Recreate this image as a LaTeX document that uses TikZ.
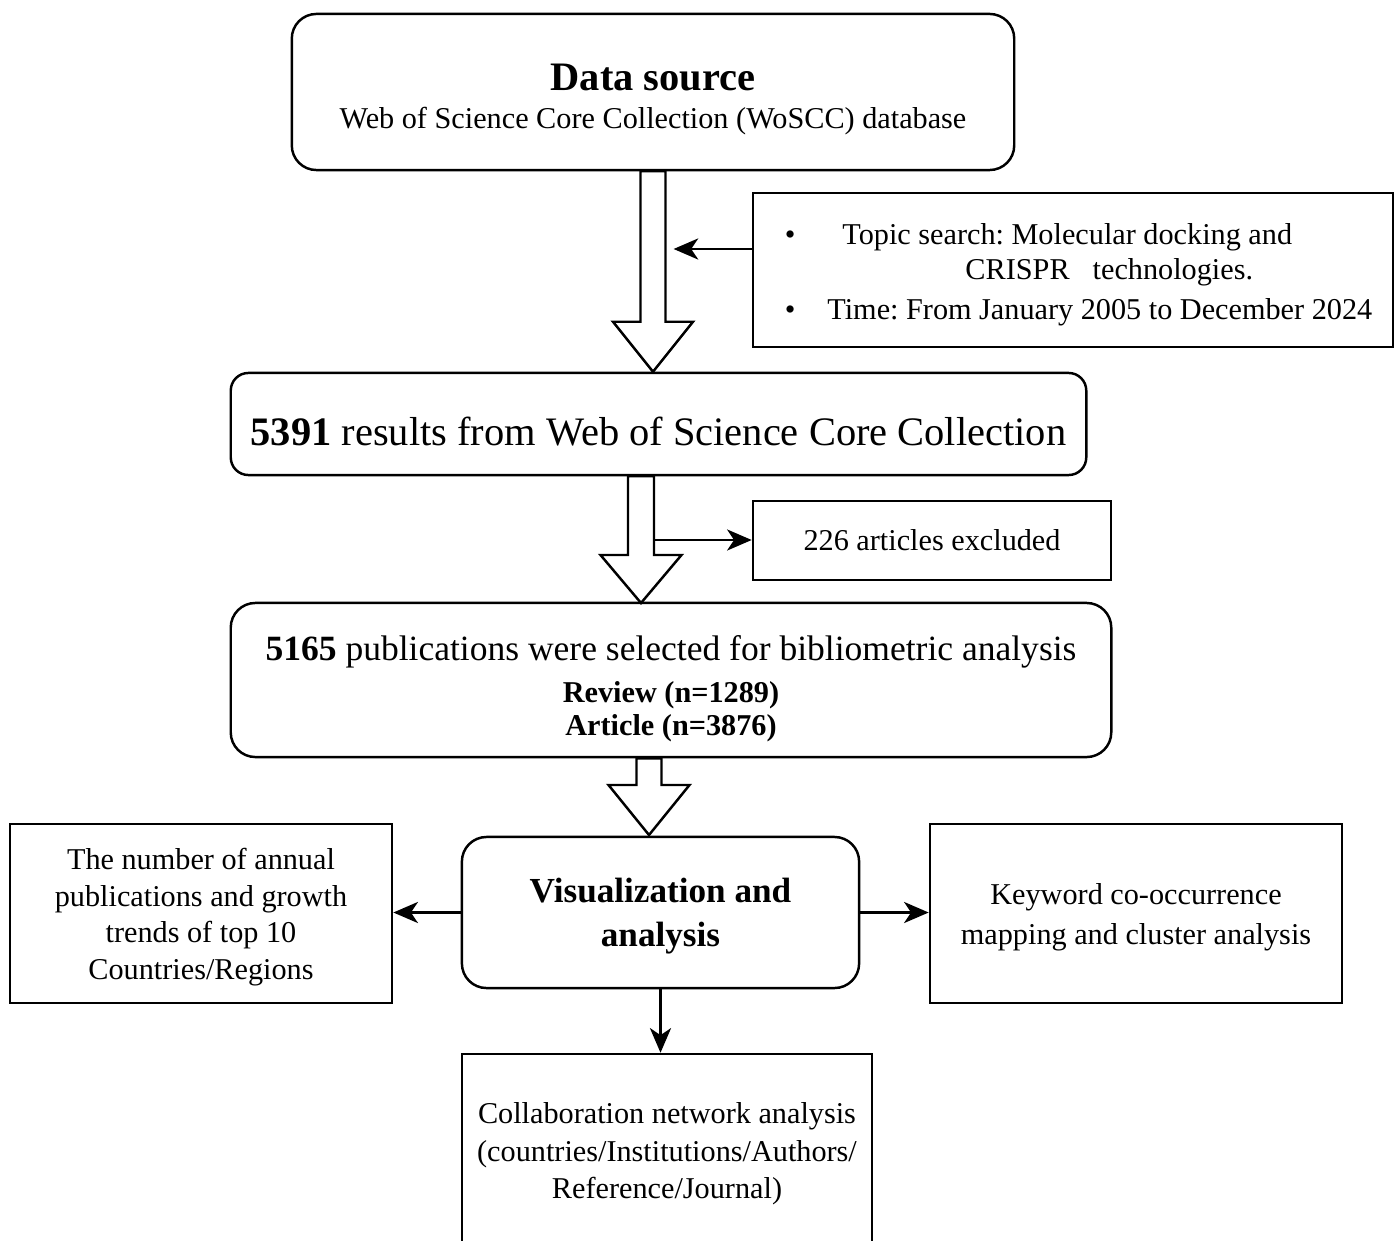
\documentclass[tikz,border=0pt]{standalone}
\usepackage{fontspec}
\setmainfont{Liberation Serif}
\usetikzlibrary{arrows.meta, positioning, calc}
\frenchspacing

\begin{document}
\begin{tikzpicture}[
    x=0.01cm, y=-0.01cm,
    every node/.style={font=\fontsize{8.6pt}{10.5pt}\selectfont},
    box/.style={rectangle, draw, line width=0.7pt, align=center, inner sep=0pt},
    rbox/.style={box, rounded corners=7pt},
    arrow/.style={-{Stealth[length=7pt, width=6pt, inset=2pt]}, line width=0.7pt},
    fatarrow/.style={draw, fill=white, line width=0.7pt, line join=miter}
]
\useasboundingbox (0,0) rectangle (1398,1240);

% ============ SOURCE AND SEARCH ============
\node[rbox, minimum width=7.22cm, minimum height=1.56cm, font=\fontsize{8.6pt}{10.8pt}\selectfont] (src) at (653, 92)
    {\rule{0pt}{11.8pt}{\fontsize{11.5pt}{13pt}\selectfont\bfseries Data source}\\ Web of Science Core Collection (WoSCC) database};

\node[box, minimum width=6.40cm, minimum height=1.54cm, font=\fontsize{8.6pt}{10pt}\selectfont] (crit) at (1073, 270)
    {\begin{tabular}{@{\hspace{0.11cm}}c@{\hspace{0.32cm}}l@{}}
      \rule{0pt}{9.8pt}\textbullet & \hspace{0.15cm}Topic search: Molecular docking and\\
                  & \hspace{1.38cm}CRISPR\hspace{0.23cm}technologies.\\[1.4pt]
      \textbullet & Time: From January 2005 to December 2024
    \end{tabular}};

% ============ SCREENING ============
\node[rbox, rounded corners=5pt, minimum width=8.55cm, minimum height=1.02cm, font=\fontsize{11.5pt}{13pt}\selectfont] (res) at (658.5, 424)
    {\rule{0pt}{12.5pt}\textbf{5391} results from Web of Science Core Collection};

\node[box, minimum width=3.58cm, minimum height=0.79cm] (excl) at (932, 540.5) {226 articles excluded};

\node[rbox, minimum width=8.8cm, minimum height=1.54cm, font=\fontsize{8.6pt}{9.4pt}\selectfont] (pub) at (671, 680)
    {\rule{0pt}{12.2pt}{\fontsize{10.1pt}{12pt}\selectfont\textbf{5165} publications were selected for bibliometric analysis}\\[2.4pt]
     \textbf{Review (n=1289)}\\ \textbf{Article (n=3876)}};

% ============ ANALYSIS ============
\node[rbox, minimum width=3.97cm, minimum height=1.51cm, font=\fontsize{10pt}{12.5pt}\selectfont\bfseries] (vis) at (660.5, 912.5)
    {\rule{0pt}{9pt}Visualization and\\ analysis};

\node[box, minimum width=3.82cm, minimum height=1.79cm] (trend) at (201, 913.5)
    {\rule{0pt}{8.1pt}The number of annual\\ publications and growth\\ trends of top 10\\ Countries/Regions};

\node[box, minimum width=4.12cm, minimum height=1.79cm, font=\fontsize{8.6pt}{11.4pt}\selectfont] (kw) at (1136, 913.5)
    {\rule{0pt}{8.1pt}Keyword co-occurrence\\ mapping and cluster analysis};

\node[box, minimum width=4.10cm, minimum height=1.92cm, font=\fontsize{8.6pt}{10.7pt}\selectfont] (collab) at (667, 1150)
    {\rule{0pt}{8.1pt}Collaboration network analysis\\ (countries/Institutions/Authors/\\ Reference/Journal)};

% ============ HOLLOW ARROWS ============
\coordinate (t1) at (src.south |- res.north);
\draw[fatarrow] (t1) -- ++(-40,-50) -- ++(27.5,0) -- ([shift={(-12.5,0)}]t1 |- src.south)
    -- ([shift={(12.5,0)}]t1 |- src.south) -- ([shift={(12.5,-50)}]t1) -- ([shift={(40,-50)}]t1) -- cycle;

\coordinate (t2) at (641, 603);
\draw[fatarrow] (t2) -- ++(-40.5,-48) -- ++(27.5,0) -- ([shift={(-13,0)}]t2 |- res.south)
    -- ([shift={(13,0)}]t2 |- res.south) -- ([shift={(13,-48)}]t2) -- ([shift={(40.5,-48)}]t2) -- cycle;

\coordinate (t3) at (649, 835);
\draw[fatarrow] (t3) -- ++(-40.5,-50) -- ++(28,0) -- ([shift={(-12.5,0)}]t3 |- pub.south)
    -- ([shift={(12.5,0)}]t3 |- pub.south) -- ([shift={(12.5,-50)}]t3) -- ([shift={(40.5,-50)}]t3) -- cycle;

% ============ THIN ARROWS ============
\coordinate (cin) at ([shift={(0,-21)}]crit.west);
\coordinate (cend) at ([shift={(-78,0)}]cin);
\draw[arrow] (cin) -- (cend);

\coordinate (xout) at ([shift={(13,-63)}]t2);
\draw[arrow] (xout) -- (xout -| excl.west);

\draw[arrow] (vis.west) -- (vis.west -| trend.east);
\draw[arrow] (vis.east) -- (vis.east -| kw.west);
\draw[arrow] (vis.south) -- (vis.south |- collab.north);

\end{tikzpicture}
\end{document}
